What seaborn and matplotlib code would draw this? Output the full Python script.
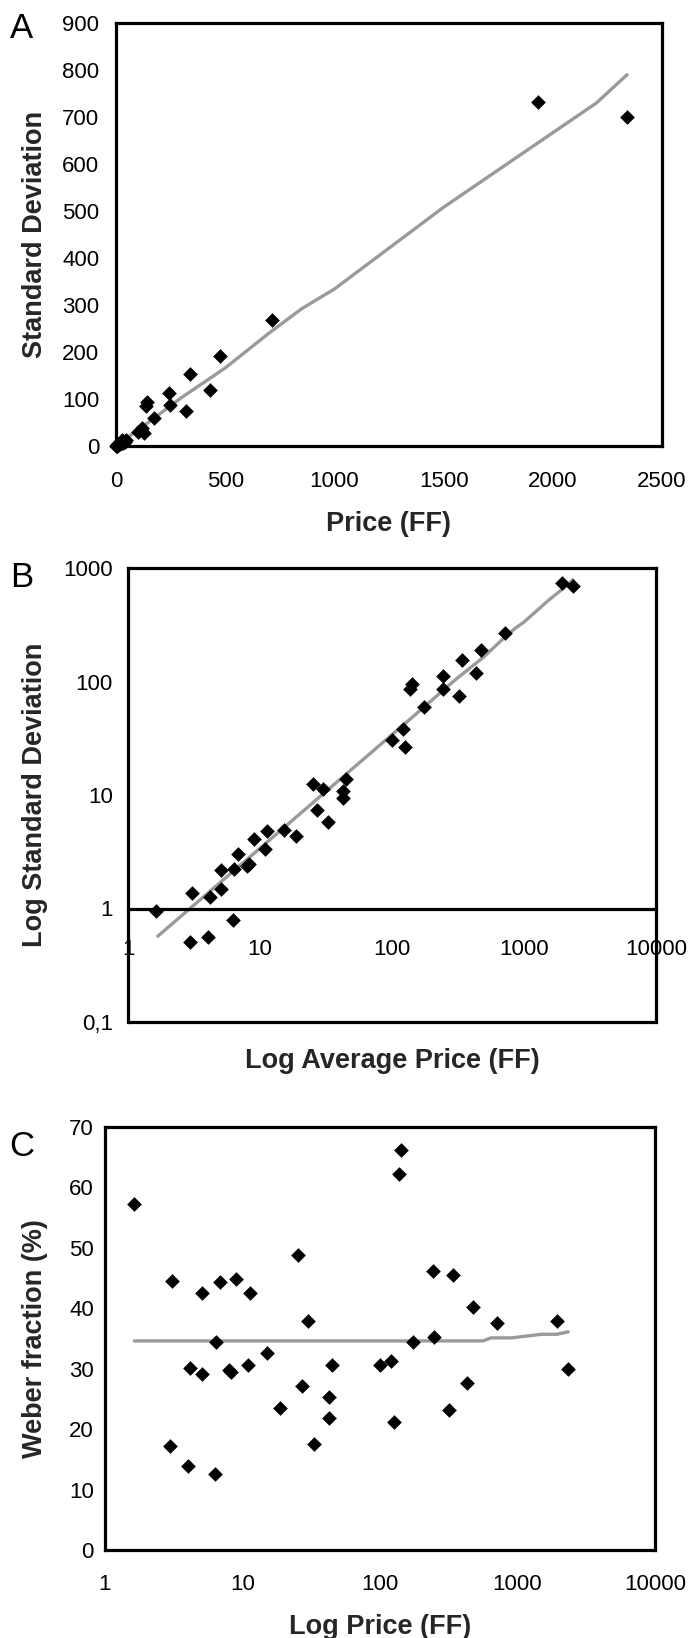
import numpy as np
import pandas as pd
import matplotlib
matplotlib.use("Agg")
import matplotlib.pyplot as plt
import seaborn as sns
from matplotlib import font_manager
from matplotlib.ticker import FixedLocator, FixedFormatter, NullLocator

# ------------------------------------------------------------------
# Data: one point per product
# ------------------------------------------------------------------
price = [1.635, 2.96, 3.07, 4.03, 4.18, 5.10, 5.10, 6.26, 6.40, 6.84,
         7.92, 8.30, 9.04, 10.9, 11.35, 15.1, 18.6, 25.3, 27.0, 29.9,
         32.9, 42.8, 42.8, 44.8, 100, 121, 126, 137.6, 142.8, 174,
         244, 245, 320, 339, 432, 476, 713, 1932, 2340]
sd = [0.95, 0.51, 1.37, 0.56, 1.26, 2.17, 1.49, 0.79, 2.21, 3.03,
      2.36, 2.45, 4.06, 3.34, 4.84, 4.92, 4.37, 12.4, 7.32, 11.3,
      5.76, 10.8, 9.37, 13.7, 30.6, 37.8, 26.7, 85.6, 94.5, 60.0,
      112.7, 86.2, 74.2, 154, 119, 191, 268, 732, 700]
weber = [57.3, 17.2, 44.5, 13.9, 30.2, 42.6, 29.2, 12.6, 34.5, 44.3,
         29.8, 29.5, 44.9, 30.6, 42.6, 32.6, 23.5, 48.9, 27.1, 37.9,
         17.5, 25.3, 21.9, 30.6, 30.6, 31.2, 21.2, 62.2, 66.2, 34.5,
         46.2, 35.2, 23.2, 45.5, 27.6, 40.2, 37.6, 37.9, 29.9]

# grey fitted curves
trend_price = [1.68, 50, 150, 300, 500, 700, 850, 1000, 1500, 1932, 2200, 2340]
trend_sd = [0.57, 17, 51, 103, 166, 240, 292, 334, 508, 645, 730, 790]
trend_price_c = [1.635, 100, 200, 400, 560, 640, 900, 1500, 1932, 2340]
trend_weber = [34.6, 34.6, 34.6, 34.6, 34.6, 35.1, 35.1, 35.7, 35.7, 36.1]

df = pd.DataFrame({"price": price, "sd": sd, "weber": weber})
trend_ab = pd.DataFrame({"price": trend_price, "sd": trend_sd})
trend_c = pd.DataFrame({"price": trend_price_c, "weber": trend_weber})

# ------------------------------------------------------------------
# Style
# ------------------------------------------------------------------
sns.set_theme(style="white")
plt.rcParams["font.family"] = ["Liberation Sans", "DejaVu Sans"]

names = {f.name for f in font_manager.fontManager.ttflist}
if "Liberation Sans Narrow" in names:
    label_font = ["Liberation Sans Narrow", "Liberation Sans"]
    label_size = 23
    letter_size = 27
else:
    label_font = ["Liberation Sans", "DejaVu Sans"]
    label_size = 19.5
    letter_size = 25

TICK_SIZE = 16
GREY = "#9a9a9a"
SPINE_W = 2.3

W, H = 690, 1638
fig = plt.figure(figsize=(W / 100, H / 100), dpi=100)


def px_axes(left, right, top, bottom):
    return fig.add_axes([left / W, 1 - bottom / H, (right - left) / W, (bottom - top) / H])


def style_frame(ax):
    for side in ax.spines.values():
        side.set_visible(True)
        side.set_color("black")
        side.set_linewidth(SPINE_W)
        side.set_zorder(5)
    ax.tick_params(axis="both", which="both", direction="out", colors="black",
                   labelsize=TICK_SIZE)
    ax.tick_params(axis="x", length=4, width=1)
    ax.grid(False)


def draw_points(ax, ycol, trend, trend_y):
    sns.lineplot(data=trend, x="price", y=trend_y, ax=ax, color=GREY, lw=2.4,
                 sort=False, estimator=None, zorder=2)
    sns.scatterplot(data=df, x="price", y=ycol, ax=ax, marker="D", s=56,
                    color="black", edgecolor="black", linewidth=0, zorder=3,
                    clip_on=False)


def labels(ax, xlabel, ylabel, xpos, ypos):
    ax.set_xlabel(xlabel, fontsize=label_size, fontweight="bold",
                  family=label_font, va="center")
    ax.set_ylabel(ylabel, fontsize=label_size, fontweight="bold",
                  family=label_font, va="center")
    ax.xaxis.set_label_coords(0.5, xpos)
    ax.yaxis.set_label_coords(ypos, 0.5)


# ------------------------------------------------------------------
# A: linear SD vs price
# ------------------------------------------------------------------
ax_a = px_axes(116, 662, 23, 446)
draw_points(ax_a, "sd", trend_ab, "sd")
ax_a.set_xlim(0, 2500)
ax_a.set_ylim(0, 900)
ax_a.set_xticks([0, 500, 1000, 1500, 2000, 2500])
ax_a.set_yticks(range(0, 901, 100))
style_frame(ax_a)
ax_a.tick_params(axis="y", length=7, width=2.5, pad=5)
ax_a.tick_params(axis="x", pad=14)
labels(ax_a, "Price (FF)", "Standard Deviation", -0.184, -0.149)

# ------------------------------------------------------------------
# B: log-log
# ------------------------------------------------------------------
ax_b = px_axes(128, 656, 568, 1022)
draw_points(ax_b, "sd", trend_ab, "sd")
ax_b.set_xscale("log")
ax_b.set_yscale("log")
ax_b.set_xlim(1, 10000)
ax_b.set_ylim(0.1, 1000)
xt_b = [1, 10, 100, 1000, 10000]
yt_b = [0.1, 1, 10, 100, 1000]
ax_b.xaxis.set_major_locator(FixedLocator(xt_b))
ax_b.xaxis.set_major_formatter(FixedFormatter(["1", "10", "100", "1000", "10000"]))
ax_b.yaxis.set_major_locator(FixedLocator(yt_b))
ax_b.yaxis.set_major_formatter(FixedFormatter(["0,1", "1", "10", "100", "1000"]))
ax_b.xaxis.set_minor_locator(NullLocator())
ax_b.yaxis.set_minor_locator(NullLocator())
style_frame(ax_b)
ax_b.spines["bottom"].set_position(("data", 1))
ax_b.axhline(ax_b.get_ylim()[0], color="black", lw=SPINE_W, clip_on=False, zorder=5)
ax_b.tick_params(axis="y", length=4, width=2, pad=7)
ax_b.tick_params(axis="x", pad=18)
labels(ax_b, "Log Average Price (FF)", "Log Standard Deviation", -0.086, -0.177)

# ------------------------------------------------------------------
# C: Weber fraction vs log price
# ------------------------------------------------------------------
ax_c = px_axes(105, 655, 1127, 1550)
draw_points(ax_c, "weber", trend_c, "weber")
ax_c.set_xscale("log")
ax_c.set_xlim(1, 10000)
ax_c.set_ylim(0, 70)
ax_c.xaxis.set_major_locator(FixedLocator(xt_b))
ax_c.xaxis.set_major_formatter(FixedFormatter(["1", "10", "100", "1000", "10000"]))
ax_c.xaxis.set_minor_locator(NullLocator())
ax_c.set_yticks(range(0, 71, 10))
style_frame(ax_c)
ax_c.tick_params(axis="y", length=4, width=1.5, pad=4)
ax_c.tick_params(axis="x", length=5, pad=12)
labels(ax_c, "Log Price (FF)", "Weber fraction (%)", -0.182, -0.128)

# panel letters
for letter, ypx in [("A", 29), ("B", 577), ("C", 1146)]:
    fig.text(22 / W, 1 - ypx / H, letter, fontsize=letter_size, family=label_font,
             ha="center", va="center", color="black")

fig.savefig("out.png", dpi=100, facecolor="white")
